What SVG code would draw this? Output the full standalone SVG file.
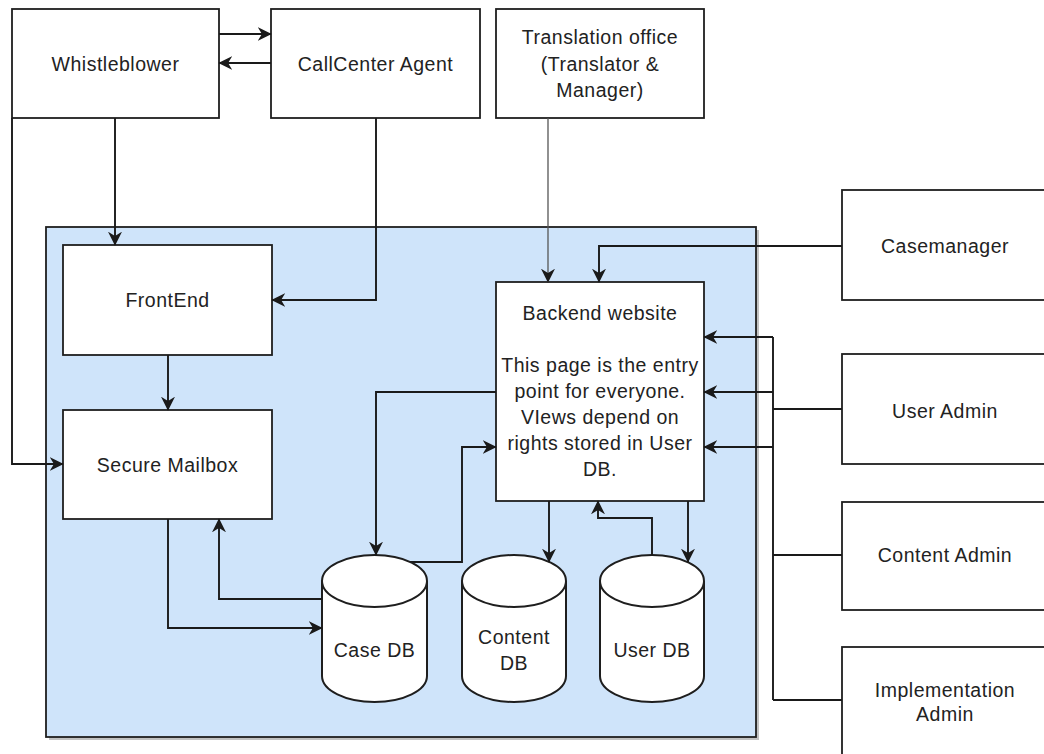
<svg xmlns="http://www.w3.org/2000/svg" width="1044" height="754" viewBox="0 0 1044 754">
<style>
.box{fill:#ffffff;stroke:#1e1e1e;stroke-width:1.8}
.db{fill:#ffffff;stroke:#1e1e1e;stroke-width:2}
.t{font-family:"Liberation Sans",Arial,sans-serif;font-size:19.5px;fill:#222222;text-anchor:middle;letter-spacing:0.5px}
.c{fill:none;stroke:#1a1a1a;stroke-width:1.9}
.thin{fill:none;stroke:#555555;stroke-width:1.3}
</style>
<defs>
<marker id="arr" viewBox="0 0 10 10" refX="9.5" refY="5" markerUnits="userSpaceOnUse" markerWidth="14" markerHeight="14" orient="auto">
<path d="M0,0 L10,5 L0,10 L3,5 z" fill="#1a1a1a"/>
</marker>
</defs>
<rect width="1044" height="754" fill="#ffffff"/>
<g id="container">
<rect x="49" y="230" width="710" height="510" fill="#9a9a9a" opacity="0.6"/>
<rect x="46" y="227" width="710" height="510" fill="#cfe4fa" stroke="#1e1e1e" stroke-width="1.8"/>
</g>
<g id="whistleblower">
<rect class="box" x="12" y="9" width="207" height="109"/>
<text class="t" x="115.5" y="71">Whistleblower</text>
</g>
<g id="callcenter">
<rect class="box" x="271" y="9" width="209" height="109"/>
<text class="t" x="375.5" y="71">CallCenter Agent</text>
</g>
<g id="translation">
<rect class="box" x="496" y="9" width="208" height="109"/>
<text class="t" x="600" y="44">Translation office</text>
<text class="t" x="600" y="71">(Translator &amp;</text>
<text class="t" x="600" y="97">Manager)</text>
</g>
<g id="casemanager">
<rect class="box" x="842" y="190" width="207" height="110"/>
<text class="t" x="945" y="253">Casemanager</text>
</g>
<g id="useradmin">
<rect class="box" x="842" y="354" width="207" height="110"/>
<text class="t" x="945" y="418">User Admin</text>
</g>
<g id="contentadmin">
<rect class="box" x="842" y="502" width="207" height="108"/>
<text class="t" x="945" y="562">Content Admin</text>
</g>
<g id="implementationadmin">
<rect class="box" x="842" y="647" width="207" height="120"/>
<text class="t" x="945" y="697">Implementation</text>
<text class="t" x="945" y="721">Admin</text>
</g>
<g id="frontend">
<rect class="box" x="63" y="245" width="209" height="110"/>
<text class="t" x="167.5" y="307">FrontEnd</text>
</g>
<g id="securemailbox">
<rect class="box" x="63" y="410" width="209" height="109"/>
<text class="t" x="167.5" y="472">Secure Mailbox</text>
</g>
<g id="backend">
<rect class="box" x="496" y="282" width="208" height="219"/>
<text class="t" x="600" y="320">Backend website</text>
<text class="t" x="600" y="372">This page is the entry</text>
<text class="t" x="600" y="398">point for everyone.</text>
<text class="t" x="600" y="424">VIews depend on</text>
<text class="t" x="600" y="450">rights stored in User</text>
<text class="t" x="600" y="476">DB.</text>
</g>
<g id="casedb">
<path class="db" d="M322,581 A52.5,26 0 0 1 427,581 V676 A52.5,26 0 0 1 322,676 Z"/>
<path class="db" fill="none" d="M322,581 A52.5,26 0 0 0 427,581"/>
<text class="t" x="374.5" y="657">Case DB</text>
</g>
<g id="contentdb">
<path class="db" d="M462,581 A52,26 0 0 1 566,581 V676 A52,26 0 0 1 462,676 Z"/>
<path class="db" fill="none" d="M462,581 A52,26 0 0 0 566,581"/>
<text class="t" x="514" y="644">Content</text>
<text class="t" x="514" y="670">DB</text>
</g>
<g id="userdb">
<path class="db" d="M600,581 A52,26 0 0 1 704,581 V676 A52,26 0 0 1 600,676 Z"/>
<path class="db" fill="none" d="M600,581 A52,26 0 0 0 704,581"/>
<text class="t" x="652" y="657">User DB</text>
</g>
<g id="connectors">
<path class="c" d="M219,34 H271" marker-end="url(#arr)"/>
<path class="c" d="M271,63 H219" marker-end="url(#arr)"/>
<path class="c" d="M115,118 V245" marker-end="url(#arr)"/>
<path class="c" d="M376,118 V300 H272" marker-end="url(#arr)"/>
<path class="c" d="M12,118 V464 H63" marker-end="url(#arr)"/>
<path class="c" d="M168,355 V410" marker-end="url(#arr)"/>
<path class="c" d="M168,519 V628 H322" marker-end="url(#arr)"/>
<path class="c" d="M322,599 H219 V519" marker-end="url(#arr)"/>
<path class="c" d="M496,392 H376 V555" marker-end="url(#arr)"/>
<path class="c" d="M410,562 H462 V447 H496" marker-end="url(#arr)"/>
<path class="thin" d="M548,118 V282" marker-end="url(#arr)"/>
<path class="c" d="M842,246 H599 V282" marker-end="url(#arr)"/>
<path class="c" d="M549,501 V562" marker-end="url(#arr)"/>
<path class="c" d="M652,555 V518 H598 V501" marker-end="url(#arr)"/>
<path class="c" d="M688,501 V562" marker-end="url(#arr)"/>
<path class="c" d="M773,337 V700"/>
<path class="c" d="M842,409 H773"/>
<path class="c" d="M842,555 H773"/>
<path class="c" d="M842,700 H773"/>
<path class="c" d="M773,337 H704" marker-end="url(#arr)"/>
<path class="c" d="M773,392 H704" marker-end="url(#arr)"/>
<path class="c" d="M773,447 H704" marker-end="url(#arr)"/>
</g>
</svg>
